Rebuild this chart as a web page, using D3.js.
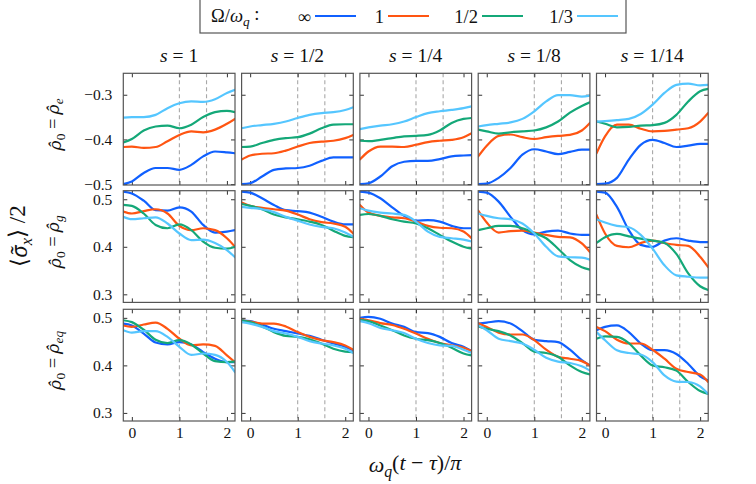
<!DOCTYPE html>
<html>
<head>
<meta charset="utf-8">
<script src="https://cdn.jsdelivr.net/npm/d3@7"></script>
<style>
  body { margin: 0; background: #fff; }
</style>
</head>
<body>
<div id="chart"></div>
<script>
const xSamples = [-0.18, 0, 0.25, 0.5, 0.75, 1, 1.25, 1.5, 1.75, 2, 2.17];
const xTicks = [0, 1, 2];
const markerX = [1, 1.571];
const seriesLabels = ['∞', '1', '1/2', '1/3'];
const colTitles = ['1', '1/2', '1/4', '1/8', '1/14'];
const rowSubs = ['e', 'g', 'eq'];
const yTicksE = [-0.5, -0.4, -0.3];
const yTicksG = [0.3, 0.4, 0.5];

// each column: [inf, 1, 1/2, 1/3]
const rhoE = [
  [[-0.500,-0.494,-0.475,-0.464,-0.464,-0.468,-0.457,-0.438,-0.427,-0.429,-0.431],
   [-0.417,-0.416,-0.419,-0.417,-0.404,-0.390,-0.382,-0.384,-0.378,-0.365,-0.354],
   [-0.407,-0.399,-0.380,-0.371,-0.369,-0.375,-0.367,-0.350,-0.339,-0.336,-0.339],
   [-0.351,-0.350,-0.350,-0.345,-0.330,-0.319,-0.315,-0.316,-0.310,-0.296,-0.289]],
  [[-0.500,-0.498,-0.483,-0.468,-0.465,-0.464,-0.459,-0.448,-0.440,-0.440,-0.440],
   [-0.445,-0.436,-0.432,-0.431,-0.425,-0.416,-0.408,-0.405,-0.403,-0.397,-0.390],
   [-0.417,-0.416,-0.408,-0.401,-0.397,-0.395,-0.387,-0.375,-0.367,-0.366,-0.366],
   [-0.375,-0.371,-0.368,-0.365,-0.360,-0.352,-0.345,-0.341,-0.339,-0.334,-0.328]],
  [[-0.500,-0.498,-0.483,-0.460,-0.450,-0.448,-0.448,-0.444,-0.438,-0.436,-0.435],
   [-0.445,-0.427,-0.416,-0.416,-0.417,-0.412,-0.406,-0.403,-0.401,-0.395,-0.386],
   [-0.403,-0.404,-0.401,-0.397,-0.393,-0.392,-0.390,-0.380,-0.363,-0.354,-0.352],
   [-0.377,-0.373,-0.369,-0.366,-0.360,-0.350,-0.341,-0.337,-0.334,-0.330,-0.326]],
  [[-0.500,-0.499,-0.486,-0.464,-0.434,-0.422,-0.427,-0.433,-0.428,-0.423,-0.423],
   [-0.438,-0.414,-0.392,-0.389,-0.395,-0.399,-0.395,-0.392,-0.390,-0.380,-0.363],
   [-0.378,-0.382,-0.387,-0.384,-0.382,-0.380,-0.373,-0.360,-0.340,-0.325,-0.317],
   [-0.371,-0.368,-0.365,-0.362,-0.354,-0.337,-0.315,-0.301,-0.301,-0.304,-0.302]],
  [[-0.500,-0.499,-0.486,-0.445,-0.412,-0.401,-0.408,-0.417,-0.414,-0.410,-0.410],
   [-0.431,-0.393,-0.367,-0.367,-0.376,-0.382,-0.381,-0.378,-0.375,-0.360,-0.341],
   [-0.360,-0.365,-0.373,-0.372,-0.369,-0.368,-0.363,-0.345,-0.315,-0.292,-0.287],
   [-0.360,-0.359,-0.357,-0.354,-0.343,-0.322,-0.296,-0.278,-0.275,-0.279,-0.278]]
];

const rhoG = [
  [[0.516,0.512,0.497,0.477,0.476,0.483,0.474,0.446,0.430,0.432,0.435],
   [0.474,0.470,0.475,0.479,0.470,0.444,0.435,0.439,0.435,0.418,0.400],
   [0.488,0.486,0.470,0.446,0.439,0.447,0.435,0.411,0.398,0.396,0.400],
   [0.463,0.458,0.460,0.462,0.449,0.428,0.414,0.415,0.408,0.393,0.378]],
  [[0.516,0.514,0.502,0.488,0.477,0.475,0.472,0.463,0.453,0.447,0.447],
   [0.493,0.486,0.482,0.479,0.476,0.468,0.458,0.452,0.449,0.442,0.428],
   [0.490,0.486,0.479,0.468,0.462,0.458,0.453,0.446,0.434,0.423,0.420],
   [0.484,0.482,0.479,0.473,0.463,0.455,0.447,0.442,0.439,0.430,0.421]],
  [[0.516,0.514,0.502,0.483,0.465,0.455,0.456,0.453,0.444,0.439,0.439],
   [0.488,0.472,0.465,0.462,0.460,0.453,0.444,0.440,0.439,0.432,0.418],
   [0.467,0.469,0.465,0.458,0.453,0.449,0.439,0.425,0.411,0.400,0.396],
   [0.481,0.476,0.472,0.470,0.467,0.453,0.432,0.421,0.418,0.415,0.411]],
  [[0.516,0.514,0.495,0.463,0.435,0.426,0.432,0.434,0.428,0.425,0.425],
   [0.476,0.451,0.430,0.433,0.434,0.430,0.425,0.421,0.420,0.407,0.389],
   [0.435,0.439,0.444,0.444,0.439,0.429,0.418,0.396,0.372,0.357,0.352],
   [0.470,0.465,0.460,0.458,0.449,0.428,0.400,0.380,0.378,0.377,0.373]],
  [[0.516,0.514,0.484,0.435,0.404,0.400,0.413,0.418,0.413,0.410,0.410],
   [0.467,0.428,0.402,0.399,0.408,0.413,0.408,0.404,0.402,0.379,0.357],
   [0.408,0.420,0.427,0.422,0.417,0.413,0.408,0.385,0.344,0.317,0.309],
   [0.458,0.451,0.444,0.441,0.425,0.396,0.361,0.340,0.337,0.335,0.335]]
];

const rhoEq = [
  [[0.488,0.484,0.467,0.448,0.444,0.449,0.444,0.428,0.414,0.407,0.407],
   [0.484,0.481,0.486,0.490,0.477,0.456,0.442,0.444,0.441,0.421,0.407],
   [0.495,0.491,0.475,0.454,0.447,0.453,0.444,0.425,0.409,0.407,0.408],
   [0.474,0.469,0.472,0.472,0.460,0.439,0.422,0.425,0.422,0.407,0.386]],
  [[0.495,0.493,0.486,0.477,0.472,0.467,0.462,0.454,0.446,0.439,0.432],
   [0.495,0.492,0.488,0.488,0.482,0.470,0.460,0.453,0.449,0.442,0.433],
   [0.495,0.491,0.482,0.470,0.462,0.460,0.455,0.446,0.435,0.429,0.428],
   [0.491,0.488,0.481,0.472,0.467,0.460,0.451,0.446,0.442,0.435,0.426]],
  [[0.500,0.502,0.498,0.488,0.481,0.470,0.468,0.460,0.447,0.439,0.430],
   [0.498,0.495,0.489,0.485,0.477,0.467,0.456,0.447,0.442,0.437,0.430],
   [0.496,0.493,0.484,0.474,0.463,0.456,0.453,0.447,0.437,0.425,0.421],
   [0.493,0.489,0.479,0.474,0.468,0.456,0.447,0.442,0.441,0.433,0.426]],
  [[0.488,0.490,0.493,0.488,0.472,0.454,0.451,0.449,0.433,0.411,0.400],
   [0.489,0.481,0.469,0.465,0.465,0.453,0.433,0.418,0.414,0.409,0.400],
   [0.482,0.477,0.472,0.463,0.447,0.429,0.426,0.418,0.400,0.386,0.381],
   [0.484,0.474,0.456,0.451,0.446,0.433,0.416,0.408,0.405,0.398,0.389]],
  [[0.474,0.481,0.484,0.470,0.446,0.432,0.432,0.424,0.403,0.377,0.368],
   [0.481,0.472,0.454,0.446,0.446,0.433,0.414,0.393,0.386,0.381,0.365],
   [0.456,0.461,0.460,0.447,0.421,0.400,0.396,0.389,0.365,0.346,0.340],
   [0.470,0.453,0.432,0.426,0.423,0.407,0.379,0.366,0.365,0.356,0.340]]
];

const seriesColors = ['#1060ff', '#ff5512', '#14a878', '#55c6ff'];
const SERIF = 'Liberation Serif';
const ACCENT = 'Noto Serif';   // renders combining hat/tilde cleanly

// write text made of pieces: '' plain, 'i' italic, 'a' italic accented, 'sub' subscript, 'isub' italic subscript
function mathText(sel, parts) {
  let shifted = false;
  sel.attr('font-family', SERIF).attr('fill', '#111');
  parts.forEach(([str, kind]) => {
    const isSub = kind === 'sub' || kind === 'isub';
    const t = sel.append('tspan').text(str);
    if (kind === 'i' || kind === 'isub' || kind === 'a') t.attr('font-style', 'italic');
    if (kind === 'a') t.attr('font-family', ACCENT).attr('font-size', '0.92em');
    if (isSub && !shifted) { t.attr('dy', '0.3em').attr('font-size', '0.72em'); shifted = true; }
    else if (isSub) t.attr('font-size', '0.72em');
    else if (shifted) { t.attr('dy', '-0.3em'); shifted = false; }
  });
  return sel;
}

class SmallMultiples {
  constructor(_config, _rows) {
    this.config = {
      parentElement: _config.parentElement,
      containerWidth: 756,
      containerHeight: 484,
      left0: 123.3,
      colStep: 118.3,
      rowTops: [73.3, 190.7, 309.3],
      size: 111.7
    };
    this.rows = _rows;
    this.initVis();
  }

  initVis() {
    let vis = this;
    const c = vis.config;

    vis.svg = d3.select(c.parentElement).append('svg')
        .attr('width', c.containerWidth)
        .attr('height', c.containerHeight)
        .attr('font-family', SERIF);

    vis.xScale = d3.scaleLinear().domain([-0.18, 2.17]).range([0, c.size]);
    vis.yScales = [
      d3.scaleLinear().domain([-0.502, -0.252]).range([c.size, 0]),
      d3.scaleLinear().domain([0.283, 0.518]).range([c.size, 0]),
      d3.scaleLinear().domain([0.283, 0.518]).range([c.size, 0])
    ];

    vis.svg.append('defs').append('clipPath')
        .attr('id', 'panel-clip')
      .append('rect')
        .attr('width', c.size)
        .attr('height', c.size);

    vis.line = d3.line()
        .x((d, i) => vis.xScale(xSamples[i]))
        .y(d => d)
        .curve(d3.curveMonotoneX);

    vis.renderVis();
    vis.renderLabels();
  }

  renderVis() {
    let vis = this;
    const c = vis.config;
    const fmt = d3.format('.1f');

    vis.rows.forEach((panels, r) => {
      const yScale = vis.yScales[r];
      const yTicks = r === 0 ? yTicksE : yTicksG;
      panels.forEach((series, col) => {
        const g = vis.svg.append('g')
            .attr('transform', `translate(${c.left0 + col * c.colStep},${c.rowTops[r]})`);

        // dashed markers
        g.selectAll('.marker')
            .data(markerX)
          .join('line')
            .attr('class', 'marker')
            .attr('x1', d => vis.xScale(d))
            .attr('x2', d => vis.xScale(d))
            .attr('y1', 0)
            .attr('y2', c.size)
            .attr('stroke', '#a8a8a8')
            .attr('stroke-width', 1.1)
            .attr('stroke-dasharray', '4,3');

        // axes, ticks pointing inward
        const xb = d3.axisBottom(vis.xScale).tickValues(xTicks).tickSize(-4).tickPadding(6)
            .tickFormat(r === 2 ? d3.format('d') : '');
        g.append('g').attr('transform', `translate(0,${c.size})`).call(xb);
        g.append('g').call(d3.axisTop(vis.xScale).tickValues(xTicks).tickSize(-4).tickFormat(''));
        const yl = d3.axisLeft(yScale).tickValues(yTicks).tickSize(-4).tickPadding(11)
            .tickFormat(col === 0 ? fmt : '');
        g.append('g').call(yl);
        g.append('g').attr('transform', `translate(${c.size},0)`)
            .call(d3.axisRight(yScale).tickValues(yTicks).tickSize(-4).tickFormat(''));
        g.selectAll('.domain').remove();
        g.selectAll('.tick line').attr('stroke', '#333');
        g.selectAll('.tick text')
            .attr('font-family', SERIF)
            .attr('font-size', 15.5)
            .attr('fill', '#111');

        // curves
        g.append('g')
            .attr('clip-path', 'url(#panel-clip)')
          .selectAll('.curve')
            .data(series)
          .join('path')
            .attr('class', 'curve')
            .attr('fill', 'none')
            .attr('stroke', (d, i) => seriesColors[i])
            .attr('stroke-width', 2.2)
            .attr('stroke-linecap', 'round')
            .attr('d', d => vis.line(d.map(v => yScale(v))));

        g.append('rect')
            .attr('width', c.size)
            .attr('height', c.size)
            .attr('fill', 'none')
            .attr('stroke', '#555')
            .attr('stroke-width', 1.2);
      });
    });
  }

  renderLabels() {
    let vis = this;
    const c = vis.config;

    // column titles
    colTitles.forEach((t, col) => {
      const txt = vis.svg.append('text')
          .attr('x', c.left0 + col * c.colStep + c.size / 2)
          .attr('y', 62)
          .attr('text-anchor', 'middle')
          .attr('font-size', 19.5);
      mathText(txt, [['s', 'i'], [' = ' + t, '']]);
    });

    // row titles
    rowSubs.forEach((s, r) => {
      const cy = c.rowTops[r] + c.size / 2 - 5;
      const txt = vis.svg.append('text')
          .attr('transform', `translate(61,${cy}) rotate(-90)`)
          .attr('text-anchor', 'middle')
          .attr('font-size', 18.5);
      mathText(txt, [['ρ\u0302', 'a'], ['0', 'sub'], [' = ', ''], ['ρ\u0302', 'a'], [s, 'isub']]);
    });

    // shared y label
    const yl = vis.svg.append('text')
        .attr('transform', 'translate(27,236) rotate(-90)')
        .attr('text-anchor', 'middle')
        .attr('font-size', 23);
    mathText(yl, [['⟨', ''], ['σ\u0303', 'a'], ['x', 'isub'], ['⟩ /2', '']]);

    // shared x label
    const xl = vis.svg.append('text')
        .attr('x', 415)
        .attr('y', 472)
        .attr('text-anchor', 'middle')
        .attr('font-size', 22);
    mathText(xl, [['ω', 'i'], ['q', 'isub'], ['(', ''], ['t', 'i'], [' − ', ''], ['τ', 'i'], [')/', ''], ['π', 'i']]);

    // legend
    const lg = vis.svg.append('g');
    lg.append('rect')
        .attr('x', 200).attr('y', -1)
        .attr('width', 426).attr('height', 34)
        .attr('fill', '#fff')
        .attr('stroke', '#555')
        .attr('stroke-width', 1.2);
    const lt = lg.append('text')
        .attr('x', 211).attr('y', 22)
        .attr('font-size', 18.5);
    mathText(lt, [['Ω/', ''], ['ω', 'i'], ['q', 'isub'], [' :', '']]);

    const lineStarts = [315, 388, 482, 577];
    const item = lg.selectAll('.item')
        .data(seriesLabels)
      .join('g')
        .attr('class', 'item')
        .attr('transform', (d, i) => `translate(${lineStarts[i]},16)`);
    item.append('line')
        .attr('x1', 0).attr('x2', 41)
        .attr('stroke', (d, i) => seriesColors[i])
        .attr('stroke-width', 2.2);
    item.append('text')
        .attr('x', -4).attr('y', 6.5)
        .attr('text-anchor', 'end')
        .attr('font-family', SERIF)
        .attr('font-size', 18.5)
        .attr('fill', '#111')
        .text(d => d);
  }
}

new SmallMultiples({ parentElement: '#chart' }, [rhoE, rhoG, rhoEq]);
</script>
</body>
</html>
